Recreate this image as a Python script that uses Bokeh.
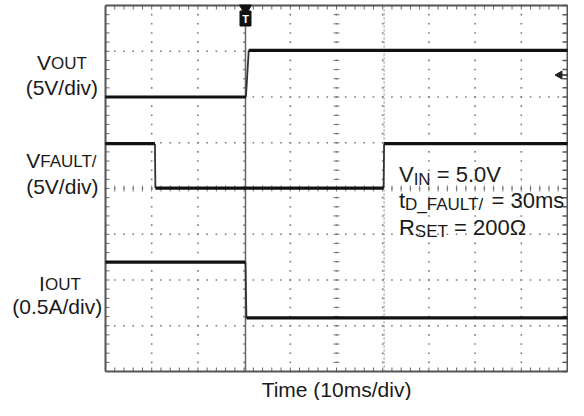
import numpy as np
from bokeh.plotting import figure
from bokeh.models import Label, Range1d
from bokeh.embed import file_html
from bokeh.resources import INLINE

# ---- data (time in ms, amplitude in scope divisions) ----
vout_t = [0, 30.4, 31.0, 100]
vout_y = [6.0, 6.0, 7.02, 7.02]
vfault_t = [0, 10.7, 10.8, 60.2, 60.3, 100]
vfault_y = [4.98, 4.98, 4.01, 4.01, 4.98, 4.98]
iout_t = [0, 30.3, 30.5, 100]
iout_y = [2.39, 2.39, 1.17, 1.17]
trigger_t = 30.3
cursor_t = 60.3
marker_t = 98.3
marker_y = 6.48

X_DIVS = 10
Y_DIVS = 8
MS_PER_DIV = 10

# ---- geometry of the scope box inside the canvas ----
W_CANVAS, H_CANVAS = 568, 400
BOX_L, BOX_R, BOX_T, BOX_B = 105, 567, 5, 371
SX = (BOX_R - BOX_L) / 100.0      # px per ms
SY = (BOX_B - BOX_T) / 8.0        # px per div

x0 = -BOX_L / SX
x1 = 100 + (W_CANVAS - BOX_R) / SX
y0 = -(H_CANVAS - BOX_B) / SY
y1 = 8 + BOX_T / SY

p = figure(width=W_CANVAS, height=H_CANVAS, x_range=Range1d(x0, x1), y_range=Range1d(y0, y1),
           x_axis_type=None, y_axis_type=None, toolbar_location=None,
           output_backend="svg", min_border=0)
p.outline_line_color = None
p.background_fill_color = "white"
p.border_fill_color = "white"

GRID_C = "#7a7a7a"

# ---- grid dots ----
minor_x = np.arange(0, 100.001, 2.0)
minor_y = np.arange(0, 8.001, 0.2)
gx, gy = [], []
for k in range(1, X_DIVS):
    for yy in minor_y:
        gx.append(k * MS_PER_DIV); gy.append(yy)
for j in range(1, Y_DIVS):
    for xx in minor_x:
        gx.append(xx); gy.append(j)
p.scatter(gx, gy, marker="square", size=1.6, color=GRID_C, line_color=None)

# center cross ticks
tx = 3 / SX
ty = 3 / SY
n = len(minor_x)
m = len(minor_y)
p.segment(x0=[50 - tx] * m, y0=list(minor_y), x1=[50 + tx] * m, y1=list(minor_y), line_color="#777", line_width=1)
p.segment(x0=list(minor_x), y0=[4 - ty] * n, x1=list(minor_x), y1=[4 + ty] * n, line_color="#777", line_width=1)

# frame edge ticks
ex = 4 / SX
ey = 4 / SY
p.segment(x0=list(minor_x), y0=[8] * n, x1=list(minor_x), y1=[8 - ey] * n, line_color="#666", line_width=1)
p.segment(x0=list(minor_x), y0=[0] * n, x1=list(minor_x), y1=[ey] * n, line_color="#666", line_width=1)
p.segment(x0=[0] * m, y0=list(minor_y), x1=[ex] * m, y1=list(minor_y), line_color="#666", line_width=1)
p.segment(x0=[100] * m, y0=list(minor_y), x1=[100 - 5 / SX] * m, y1=list(minor_y), line_color="#555", line_width=1.5)

# scope frame
p.segment(x0=[0, 100, 0, 0], y0=[0, 0, 0, 8], x1=[0, 100, 100, 100], y1=[8, 8, 0, 8],
          line_color="#555555", line_width=2)

# trigger line and cursor
p.segment(x0=[trigger_t], y0=[0], x1=[trigger_t], y1=[8], line_color="#666", line_width=1.5)
p.segment(x0=[cursor_t], y0=[0], x1=[cursor_t], y1=[8], line_color="#888", line_width=1, line_dash="2 2")

# ---- traces: thick levels, thinner transitions ----
for t, y in ((vout_t, vout_y), (vfault_t, vfault_y), (iout_t, iout_y)):
    hx0, hy0, hx1, hy1 = [], [], [], []
    vx0, vy0, vx1, vy1 = [], [], [], []
    for i in range(len(t) - 1):
        if y[i] == y[i + 1]:
            hx0.append(t[i]); hy0.append(y[i]); hx1.append(t[i + 1]); hy1.append(y[i + 1])
        else:
            vx0.append(t[i]); vy0.append(y[i]); vx1.append(t[i + 1]); vy1.append(y[i + 1])
    p.segment(x0=vx0, y0=vy0, x1=vx1, y1=vy1, line_color="#333333", line_width=1.8)
    p.segment(x0=hx0, y0=hy0, x1=hx1, y1=hy1, line_color="#111111", line_width=3.2)

# trigger marker
p.scatter([trigger_t], [8 - 3 / SY], marker="inverted_triangle", size=12, color="#111")
p.rect([trigger_t], [8 - 13 / SY], width=11, height=15, width_units="screen",
       height_units="screen", fill_color="#111", line_color="#111")
p.add_layout(Label(x=trigger_t, y=8 - 13 / SY, text="T", text_color="white",
                   text_font="Liberation Sans", text_font_style="bold", text_font_size="11px",
                   text_align="center", text_baseline="middle"))

# right-side channel marker
p.scatter([marker_t], [marker_y], marker="triangle", angle=np.pi / 2, size=8, color="#222")
p.segment(x0=[marker_t], y0=[marker_y], x1=[100], y1=[marker_y], line_color="#222", line_width=1.5)

# ---- text ----
W = {' ': 278, '(': 333, ')': 333, '/': 278, '.': 278, '=': 584, '0': 556, '1': 556, '2': 556,
     '3': 556, '5': 556, 'A': 667, 'D': 722, 'E': 667, 'F': 611, 'I': 278, 'L': 556, 'N': 722,
     'O': 778, 'R': 722, 'S': 667, 'T': 611, 'U': 722, 'V': 667, '_': 556, 'a': 556, 'd': 556,
     'e': 556, 'i': 222, 'm': 833, 's': 500, 't': 278, 'v': 500, 'Ω': 768}

TXT_C = "#1a1a1a"


def ref_x(px):
    return (px - 109) / 4.66


def rich(pieces, left_ref_px, base_div, lift):
    x = ref_x(left_ref_px)
    main = max(s for _, s, _ in pieces)
    for text, size, drop in pieces:
        lead = len(text) - len(text.lstrip(' '))
        x += lead * W[' '] / 1000.0 * size / SX
        body = text.lstrip(' ')
        comp = 0.35 * (main - size)
        p.add_layout(Label(x=x, y=base_div + (lift - drop - comp) / SY, text=body,
                           text_font="Liberation Sans", text_font_size=f"{size}px",
                           text_color=TXT_C, text_align="left", text_baseline="alphabetic"))
        x += sum(W.get(c, 556) for c in body) / 1000.0 * size / SX


LEFT_LIFT = 6.0
NOTE_LIFT = 4.0
rich([("V", 21, 0), ("OUT", 17, 0)], 40, 6.63, LEFT_LIFT)
rich([("(5V/div)", 21, 0)], 28.5, 6.08, LEFT_LIFT)
rich([("V", 21, 0), ("FAULT/", 17, 0)], 29, 4.48, LEFT_LIFT)
rich([("(5V/div)", 21, 0)], 29, 3.91, LEFT_LIFT)
rich([("I", 21, 0), ("OUT", 17, 0)], 42, 1.80, LEFT_LIFT)
rich([("(0.5A/div)", 21, 0)], 15, 1.29, LEFT_LIFT)

rich([("V", 22, 0), ("IN", 17, 3), (" = 5.0V", 22, 0)], 405, 4.21, NOTE_LIFT)
rich([("t", 22, 0), ("D_FAULT/", 17, 3), (" = 30ms", 22, 0)], 405, 3.66, NOTE_LIFT)
rich([("R", 22, 0), ("SET", 17, 3), (" = 200Ω", 22, 0)], 405, 3.07, NOTE_LIFT)

p.add_layout(Label(x=50, y=-(389 - BOX_B) / SY, text="Time (10ms/div)", text_font="Liberation Sans",
                   text_font_size="21px", text_color=TXT_C, text_align="center",
                   text_baseline="alphabetic"))

open("out.html", "w").write(file_html(p, INLINE))
